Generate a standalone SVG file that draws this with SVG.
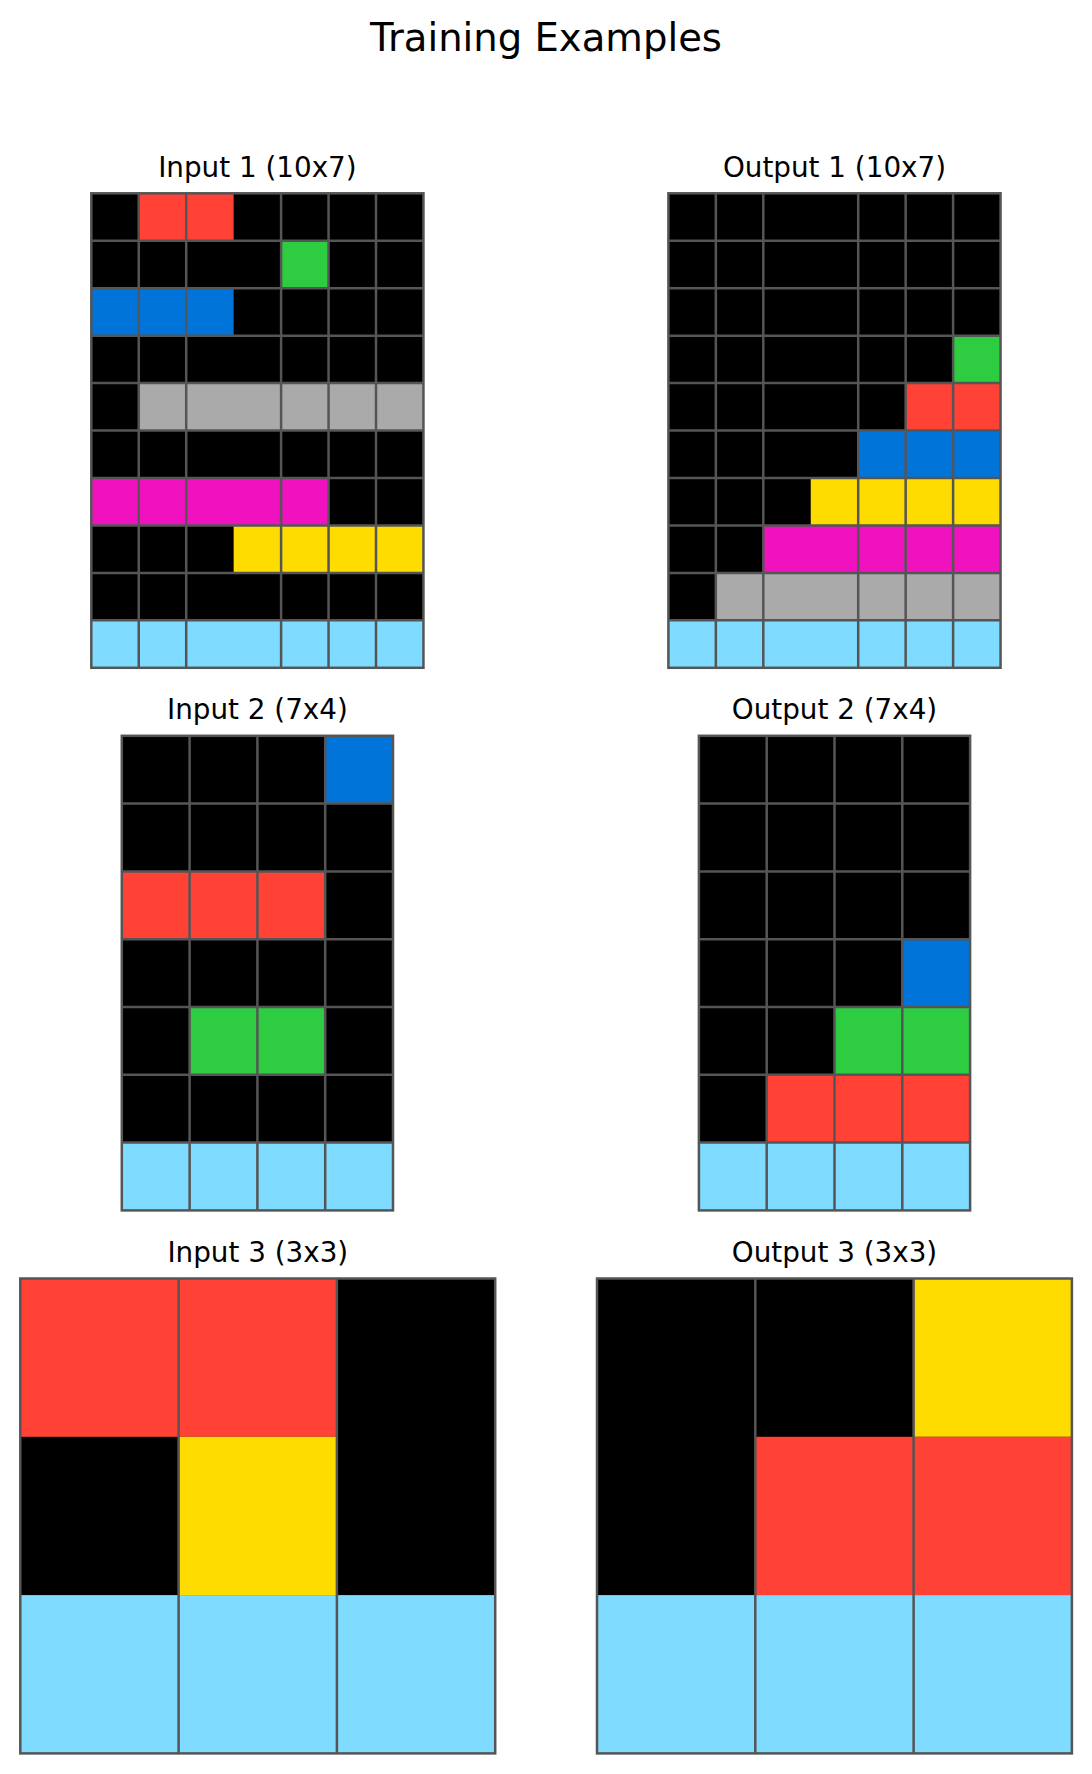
<svg xmlns="http://www.w3.org/2000/svg" width="1092" height="1774" viewBox="0 0 1092 1774">
<style>
text{font-family:"DejaVu Sans","Liberation Sans",sans-serif;fill:#000;text-anchor:middle}
.main{font-size:38.6px}
.sub{font-size:27.8px}
.k{fill:#000000}.r{fill:#FF4136}.g{fill:#2ECC40}.b{fill:#0074D9}.y{fill:#FFDC00}.m{fill:#F012BE}.gy{fill:#AAAAAA}.lb{fill:#7FDBFF}
.grid{fill:none;stroke:#555555;stroke-width:2.5}
</style>
<rect width="1092" height="1774" fill="#ffffff"/>
<text class="main" x="546" y="51">Training Examples</text>

<g id="input1">
<text class="sub" x="257.4" y="176.7">Input 1 (10x7)</text>
<g transform="translate(91.3,193.3)">
<rect class="k" width="332.15" height="474.5"/>
<rect class="r" x="47.45" y="0" width="94.9" height="47.45"/>
<rect class="g" x="189.8" y="47.45" width="47.45" height="47.45"/>
<rect class="b" x="0" y="94.9" width="142.35" height="47.45"/>
<rect class="gy" x="47.45" y="189.8" width="284.7" height="47.45"/>
<rect class="m" x="0" y="284.7" width="237.25" height="47.45"/>
<rect class="y" x="142.35" y="332.15" width="189.8" height="47.45"/>
<rect class="lb" x="0" y="427.05" width="332.15" height="47.45"/>
<path class="grid" d="M47.45 0V474.5M94.9 0V474.5M189.8 0V474.5M237.25 0V474.5M284.7 0V474.5M0 47.45H332.15M0 94.9H332.15M0 142.35H332.15M0 189.8H332.15M0 237.25H332.15M0 284.7H332.15M0 332.15H332.15M0 379.6H332.15M0 427.05H332.15"/>
<rect class="grid" width="332.15" height="474.5"/>
</g>
</g>

<g id="output1">
<text class="sub" x="834.5" y="176.7">Output 1 (10x7)</text>
<g transform="translate(668.4,193.3)">
<rect class="k" width="332.15" height="474.5"/>
<rect class="g" x="284.7" y="142.35" width="47.45" height="47.45"/>
<rect class="r" x="237.25" y="189.8" width="94.9" height="47.45"/>
<rect class="b" x="189.8" y="237.25" width="142.35" height="47.45"/>
<rect class="y" x="142.35" y="284.7" width="189.8" height="47.45"/>
<rect class="m" x="94.9" y="332.15" width="237.25" height="47.45"/>
<rect class="gy" x="47.45" y="379.6" width="284.7" height="47.45"/>
<rect class="lb" x="0" y="427.05" width="332.15" height="47.45"/>
<path class="grid" d="M47.45 0V474.5M94.9 0V474.5M189.8 0V474.5M237.25 0V474.5M284.7 0V474.5M0 47.45H332.15M0 94.9H332.15M0 142.35H332.15M0 189.8H332.15M0 237.25H332.15M0 284.7H332.15M0 332.15H332.15M0 379.6H332.15M0 427.05H332.15"/>
<rect class="grid" width="332.15" height="474.5"/>
</g>
</g>

<g id="input2">
<text class="sub" x="257.4" y="719.2">Input 2 (7x4)</text>
<g transform="translate(121.8,735.8)">
<rect class="k" width="271.2" height="474.6"/>
<rect class="b" x="203.4" y="0" width="67.8" height="67.8"/>
<rect class="r" x="0" y="135.6" width="203.4" height="67.8"/>
<rect class="g" x="67.8" y="271.2" width="135.6" height="67.8"/>
<rect class="lb" x="0" y="406.8" width="271.2" height="67.8"/>
<path class="grid" d="M67.8 0V474.6M135.6 0V474.6M203.4 0V474.6M0 67.8H271.2M0 135.6H271.2M0 203.4H271.2M0 271.2H271.2M0 339H271.2M0 406.8H271.2"/>
<rect class="grid" width="271.2" height="474.6"/>
</g>
</g>

<g id="output2">
<text class="sub" x="834.5" y="719.2">Output 2 (7x4)</text>
<g transform="translate(698.9,735.8)">
<rect class="k" width="271.2" height="474.6"/>
<rect class="b" x="203.4" y="203.4" width="67.8" height="67.8"/>
<rect class="g" x="135.6" y="271.2" width="135.6" height="67.8"/>
<rect class="r" x="67.8" y="339" width="203.4" height="67.8"/>
<rect class="lb" x="0" y="406.8" width="271.2" height="67.8"/>
<path class="grid" d="M67.8 0V474.6M135.6 0V474.6M203.4 0V474.6M0 67.8H271.2M0 135.6H271.2M0 203.4H271.2M0 271.2H271.2M0 339H271.2M0 406.8H271.2"/>
<rect class="grid" width="271.2" height="474.6"/>
</g>
</g>

<g id="input3">
<text class="sub" x="257.8" y="1261.9">Input 3 (3x3)</text>
<g transform="translate(20.3,1278.5)">
<rect class="k" width="474.9" height="474.9"/>
<rect class="r" x="0" y="0" width="316.6" height="158.3"/>
<rect class="y" x="158.3" y="158.3" width="158.3" height="158.3"/>
<rect class="lb" x="0" y="316.6" width="474.9" height="158.3"/>
<path class="grid" d="M158.3 0V474.9M316.6 0V474.9"/>
<rect class="grid" width="474.9" height="474.9"/>
</g>
</g>

<g id="output3">
<text class="sub" x="834.5" y="1261.9">Output 3 (3x3)</text>
<g transform="translate(597,1278.5)">
<rect class="k" width="474.9" height="474.9"/>
<rect class="y" x="316.6" y="0" width="158.3" height="158.3"/>
<rect class="r" x="158.3" y="158.3" width="316.6" height="158.3"/>
<rect class="lb" x="0" y="316.6" width="474.9" height="158.3"/>
<path class="grid" d="M158.3 0V474.9M316.6 0V474.9"/>
<rect class="grid" width="474.9" height="474.9"/>
</g>
</g>

<g id="connectors"></g>
</svg>
